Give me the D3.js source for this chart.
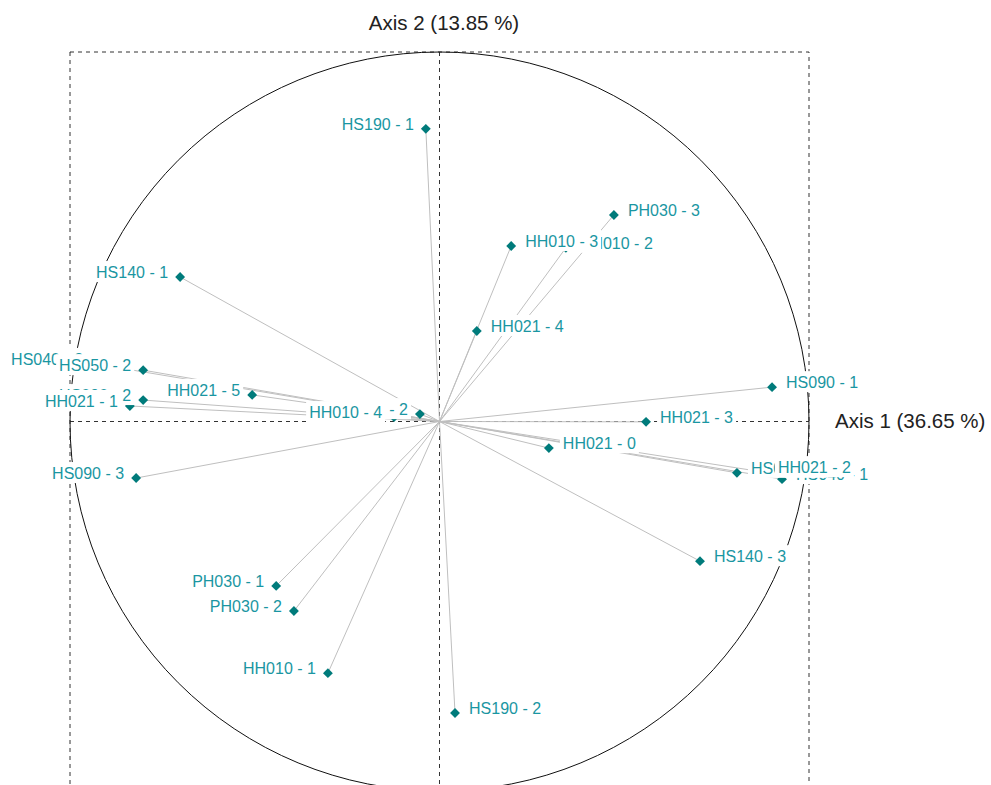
<!DOCTYPE html>
<html>
<head>
<meta charset="utf-8">
<script src="https://cdn.jsdelivr.net/npm/d3@7"></script>
<style>
  html, body { margin: 0; padding: 0; background: #ffffff; }
  svg { display: block; }
</style>
</head>
<body>
<script>
// Variable categories and their coordinates on the first two axes (correlation circle)
const categories = [
  "HS190 - 1", "HS190 - 2", "PH030 - 3", "PH030 - 1", "PH030 - 2",
  "HH010 - 2", "HH010 - 3", "HH010 - 1", "HS140 - 2", "HH010 - 4",
  "HH021 - 4", "HH021 - 5", "HS090 - 2", "HH021 - 1", "HH021 - 3",
  "HH021 - 0", "HS040 - 1", "HS050 - 1", "HH021 - 2", "HS140 - 1",
  "HS140 - 3", "HS090 - 1", "HS090 - 3", "HS040 - 2", "HS050 - 2"
];
const axis1 = [
  -0.037,  0.042,  0.472, -0.442, -0.394,
   0.342,  0.194, -0.302, -0.053, -0.123,
   0.101, -0.507, -0.802, -0.838,  0.559,
   0.296,  0.927,  0.805,  0.878, -0.702,
   0.705,  0.900, -0.821, -0.932, -0.802
];
const axis2 = [
   0.792, -0.789,  0.559, -0.445, -0.513,
   0.470,  0.475, -0.681,  0.020,  0.012,
   0.245,  0.072,  0.058,  0.042, -0.001,
  -0.072, -0.156, -0.139, -0.137,  0.391,
  -0.378,  0.093, -0.153,  0.156,  0.139
];
const axisTitles = ["Axis 1 (36.65 %)", "Axis 2 (13.85 %)"];

const W = 991, H = 785;
const fontFamily = "Arial, 'Liberation Sans', sans-serif";

const svg = d3.select("body").append("svg")
  .attr("width", W).attr("height", H)
  .style("font-family", fontFamily);

const x = d3.scaleLinear().domain([-1, 1]).range([70, 809]);
const y = d3.scaleLinear().domain([-1, 1]).range([791, 52]);
const r = x(1) - x(0);

const points = categories.map((name, i) => ({ name, a1: axis1[i], a2: axis2[i] }));

// Frame: dashed square for [-1, 1] and dashed axes through the origin
const frame = svg.append("g")
  .attr("fill", "none")
  .attr("stroke", "#333")
  .attr("stroke-width", 1)
  .attr("stroke-dasharray", "4,4");
frame.append("rect")
  .attr("x", x(-1)).attr("y", y(1))
  .attr("width", x(1) - x(-1)).attr("height", y(-1) - y(1));
frame.append("line")
  .attr("x1", x(-1)).attr("x2", x(1))
  .attr("y1", y(0)).attr("y2", y(0));
frame.append("line")
  .attr("x1", x(0)).attr("x2", x(0))
  .attr("y1", y(1)).attr("y2", y(-1));

// Unit circle
svg.append("circle")
  .attr("cx", x(0)).attr("cy", y(0)).attr("r", r)
  .attr("fill", "none").attr("stroke", "#111").attr("stroke-width", 1);

// Vectors from the origin
svg.append("g").selectAll("line").data(points).join("line")
  .attr("x1", x(0)).attr("y1", y(0))
  .attr("x2", d => x(d.a1)).attr("y2", d => y(d.a2))
  .attr("stroke", "#bfbfbf").attr("stroke-width", 1);

// Diamond markers
const diamond = d3.symbol().type(d3.symbolDiamond2).size(62);
svg.append("g").selectAll("path").data(points).join("path")
  .attr("d", diamond)
  .attr("transform", d => `translate(${x(d.a1)},${y(d.a2)})`)
  .attr("fill", "#007b7b");

// Labels with opaque background boxes, drawn in sequence
const labelLayer = svg.append("g");
points.forEach(d => {
  const g = labelLayer.append("g");
  const right = d.a1 >= 0;
  const t = g.append("text")
    .attr("x", right ? x(d.a1) + 14 : x(d.a1) - 12)
    .attr("y", y(d.a2) + 1)
    .attr("text-anchor", right ? "start" : "end")
    .attr("font-size", 16)
    .attr("fill", "#1a96a2")
    .text(d.name);
  const b = t.node().getBBox();
  g.insert("rect", "text")
    .attr("x", b.x - 3).attr("y", b.y - 3)
    .attr("width", b.width + 6).attr("height", b.height + 4)
    .attr("fill", "#ffffff");
});

// Axis titles
svg.append("text")
  .attr("x", 444).attr("y", 30)
  .attr("text-anchor", "middle")
  .attr("font-size", 20.5)
  .attr("fill", "#222")
  .text(axisTitles[1]);
svg.append("text")
  .attr("x", 835).attr("y", 428)
  .attr("text-anchor", "start")
  .attr("font-size", 20.5)
  .attr("fill", "#222")
  .text(axisTitles[0]);
</script>
</body>
</html>
